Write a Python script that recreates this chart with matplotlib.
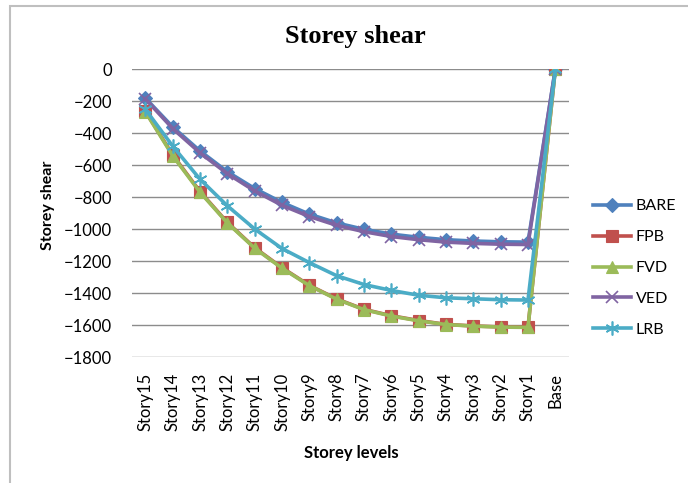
import matplotlib.pyplot as plt
from matplotlib.patches import Rectangle

levels = ["Story15", "Story14", "Story13", "Story12", "Story11", "Story10", "Story9",
          "Story8", "Story7", "Story6", "Story5", "Story4", "Story3", "Story2", "Story1", "Base"]

bare = [-180, -360, -510, -640, -745, -832, -905, -960, -1000, -1030, -1050, -1065, -1073, -1078, -1080, 0]
fpb = [-262, -535, -764, -957, -1115, -1240, -1350, -1435, -1500, -1540, -1570, -1594, -1604, -1610, -1612, 0]
fvd = [-265, -540, -768, -960, -1118, -1243, -1352, -1437, -1502, -1542, -1572, -1595, -1605, -1611, -1613, 0]
ved = [-185, -370, -522, -652, -760, -850, -920, -975, -1015, -1045, -1065, -1080, -1088, -1093, -1095, 0]
lrb = [-250, -480, -687, -853, -998, -1120, -1208, -1290, -1345, -1382, -1412, -1428, -1434, -1440, -1442, 0]

series = [
    ("BARE", bare, "#4F81BD", "D", 7),
    ("FPB", fpb, "#C0504D", "s", 8),
    ("FVD", fvd, "#9BBB59", "^", 8),
    ("VED", ved, "#8064A2", "x", 8),
    ("LRB", lrb, "#4BACC6", (6, 2, 0), 10),
]

plt.rcParams['font.family'] = ['Lato', 'DejaVu Sans']

fig = plt.figure(figsize=(6.88, 4.83), dpi=100)
# outer chart border
fig.patches.append(Rectangle((9.5 / 688, -0.1), 1.2, 1.1 - 6 / 483, transform=fig.transFigure,
                             fill=False, edgecolor="#BFBFBF", linewidth=1.5))

ax = fig.add_axes([0.1914, 0.2602, 0.6356, 0.5963])
x = list(range(len(levels)))
for name, vals, color, marker, ms in series:
    ax.plot(x, vals, color=color, linewidth=2.6, marker=marker, markersize=ms,
            markeredgewidth=1.2 if marker in ("x", (6, 2, 0)) else 0.8,
            markeredgecolor=color, label=name)

ax.set_xlim(-0.5, 15.5)
ax.set_ylim(-1800, 0)
ax.set_yticks(range(-1800, 1, 200))
ax.set_xticks(x)
ax.set_xticklabels(levels, rotation=90, fontsize=12)
ax.tick_params(axis="y", labelsize=12, length=0, pad=14)
ax.tick_params(axis="x", length=0, pad=11)
ax.grid(axis="y", color="#8C8C8C", linewidth=1)
ax.set_axisbelow(True)
for s in ax.spines.values():
    s.set_visible(False)

fig.text(0.516, 0.925, "Storey shear", family="Liberation Serif", fontweight="bold",
         fontsize=19, ha="center", va="center")
fig.text(0.07, 0.575, "Storey shear", fontweight="bold", fontsize=11.5, rotation=90,
         ha="center", va="center")
fig.text(0.51, 0.062, "Storey levels", fontweight="bold", fontsize=12, ha="center", va="center")

ax.legend(loc="center left", bbox_to_anchor=(1.04, 0.31), frameon=False, fontsize=11.5,
          handlelength=2.4, labelspacing=1.05, handletextpad=0.3, borderaxespad=0)

fig.savefig("out.png", dpi=100)
